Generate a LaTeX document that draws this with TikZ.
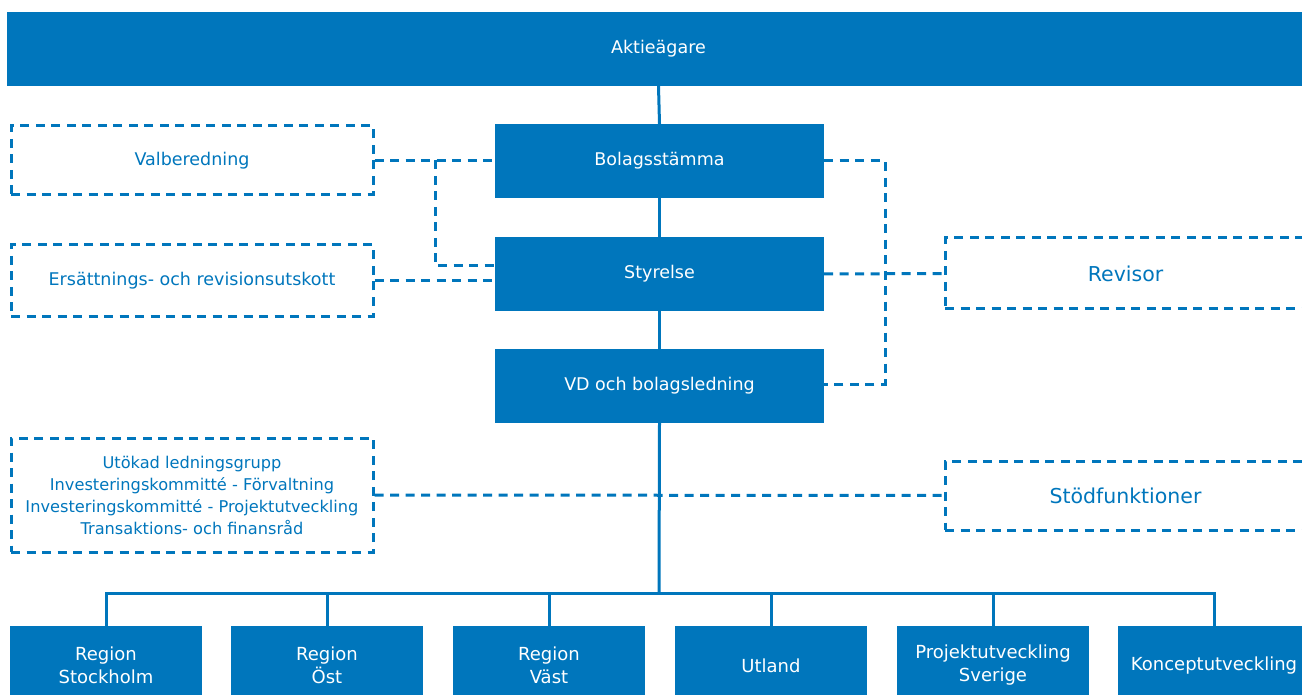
\documentclass[tikz,border=0pt]{standalone}
\usepackage{fontspec}
\setmainfont{DejaVu Sans}
\definecolor{cblue}{RGB}{0,118,188}
\begin{document}
\begin{tikzpicture}[x=1pt,y=-1pt,
  solidbox/.style={draw=none,fill=cblue,text=white,font=\fontsize{17.5}{22}\selectfont,align=center,inner sep=0pt},
  bottombox/.style={solidbox,minimum width=192pt,minimum height=79pt,font=\fontsize{18}{23}\selectfont},
  dashbox/.style={draw=cblue,line width=3pt,dash pattern=on 9pt off 6.5pt,text=cblue,align=center,inner sep=0pt},
  dline/.style={draw=cblue,line width=3pt,dash pattern=on 9pt off 6.5pt},
  sline/.style={draw=cblue,line width=3pt}]
\useasboundingbox (0,0) rectangle (1302,695);
\clip (0,0) rectangle (1302,695);
% top solid boxes
\node[solidbox,minimum width=1303pt,minimum height=74pt] (akt) at (658.5,49) {Aktieägare};
\node[solidbox,minimum width=329pt,minimum height=74pt] (bol) at (659.5,161) {Bolagsstämma};
\node[solidbox,minimum width=329pt,minimum height=74pt] (sty) at (659.5,274) {Styrelse};
\node[solidbox,minimum width=329pt,minimum height=74pt] (vd) at (659.5,386) {VD och bolagsledning};
% dashed boxes
\node[dashbox,minimum width=362pt,minimum height=69pt,font=\fontsize{17.5}{22}\selectfont] (val) at (192,160.5) {Valberedning};
\node[dashbox,minimum width=362pt,minimum height=71pt,font=\fontsize{17.5}{22}\selectfont] (ers) at (192,280.5) {Ersättnings- och revisionsutskott};
\node[dashbox,minimum width=361pt,minimum height=71pt,font=\fontsize{20.5}{24}\selectfont] (rev) at (1125.5,273.5) {Revisor};
\node[dashbox,minimum width=361pt,minimum height=69pt,font=\fontsize{20.5}{24}\selectfont] (stod) at (1125.5,495.5) {Stödfunktioner};
\node[dashbox,minimum width=362pt,minimum height=114pt,font=\fontsize{16.2}{22}\selectfont] (uto) at (192,495) {Utökad ledningsgrupp\\Investeringskommitté - Förvaltning\\Investeringskommitté - Projektutveckling\\Transaktions- och finansråd};
% bottom boxes
\node[bottombox] (b1) at (106,665.5) {Region\\Stockholm};
\node[bottombox] (b2) at (327,665.5) {Region\\Öst};
\node[bottombox] (b3) at (549,665.5) {Region\\Väst};
\node[bottombox] (b4) at (771,665.5) {Utland};
\node[bottombox] (b5) at (993,665.5) {Projektutveckling\\Sverige};
\node[bottombox] (b6) at (1214,665.5) {Konceptutveckling};
% solid connectors
\draw[sline] (akt.south) -- (bol.north);
\draw[sline] (bol.south) -- (sty.north);
\draw[sline] (sty.south) -- (vd.north);
\coordinate (bus) at (659,593);
\draw[sline] (vd.south) -- (bus);
\draw[sline] (b1.north) |- (bus) -| (b6.north);
\foreach \b in {b2,b3,b4,b5} { \draw[sline] (\b.north) -- (\b.north |- bus); }
% dashed connectors
\draw[dline] (val.east) -- (val.east -| bol.west);
\coordinate (vj) at (435,160.5);
\draw[dline] (vj) |- (sty.west |- 0,266);
\draw[dline] (ers.east) -- (ers.east -| sty.west);
\coordinate (rj) at (885,161);
\draw[dline] (bol.east |- rj) -- (rj) |- (vd.east |- 0,384);
\draw[dline] (sty.east) -- (rev.west);
\draw[dline] (uto.east) -- (stod.west);
\end{tikzpicture}
\end{document}
